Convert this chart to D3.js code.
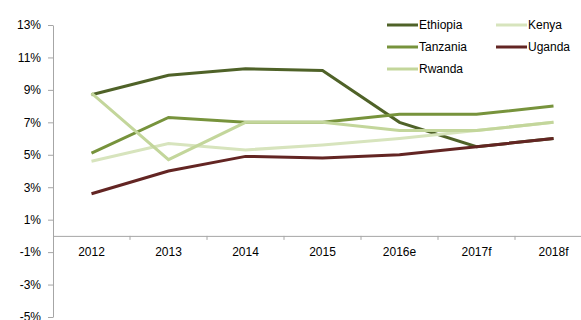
<!DOCTYPE html>
<html>
<head>
<meta charset="utf-8">
<script src="https://cdn.jsdelivr.net/npm/d3@7"></script>
<style>
  body { margin: 0; background: #fff; }
  text { font-family: "Liberation Sans", Arial, sans-serif; }
</style>
</head>
<body>
<script>
// data (growth, %)
const years = ['2012', '2013', '2014', '2015', '2016e', '2017f', '2018f'];
const ethiopia = [8.7, 9.9, 10.3, 10.2, 7.0, 5.5, 6.0];
const kenya = [4.6, 5.7, 5.3, 5.6, 6.0, 6.5, 7.0];
const tanzania = [5.1, 7.3, 7.0, 7.0, 7.5, 7.5, 8.0];
const uganda = [2.6, 4.0, 4.9, 4.8, 5.0, 5.5, 6.0];
const rwanda = [8.8, 4.7, 7.0, 7.0, 6.5, 6.5, 7.0];
const yTicks = [13, 11, 9, 7, 5, 3, 1, -1, -3, -5];

const series = [
  {name: 'Ethiopia', values: ethiopia, color: '#4f6228'},
  {name: 'Kenya', values: kenya, color: '#d7e4bd'},
  {name: 'Tanzania', values: tanzania, color: '#77933c'},
  {name: 'Uganda', values: uganda, color: '#632523'},
  {name: 'Rwanda', values: rwanda, color: '#c3d69b'}
];

const margin = {top: 25, left: 53};
const width = 539;   // plot runs a little past the window edge
const height = 292;

const svg = d3.select('body').append('svg')
  .attr('width', 581)
  .attr('height', 320);

const g = svg.append('g')
  .attr('transform', `translate(${margin.left},${margin.top})`);

const x = d3.scaleBand().domain(years).range([0, width]);
const y = d3.scaleLinear().domain([-5, 13]).range([height, 0]);

// y axis
const yAxis = g.append('g')
  .call(d3.axisLeft(y).tickValues(yTicks).tickFormat(d => d + '%').tickSize(5).tickSizeOuter(0));
yAxis.select('.domain').attr('stroke', '#a6a6a6');
yAxis.selectAll('.tick line').attr('stroke', '#a6a6a6');
yAxis.selectAll('.tick text')
  .attr('x', -12)
  .attr('fill', '#000')
  .style('font-size', '12px');

// x axis at zero
const xAxis = g.append('g')
  .attr('transform', `translate(0,${y(0)})`)
  .call(d3.axisBottom(x).tickSize(0).tickSizeOuter(0));
xAxis.select('.domain').attr('stroke', '#a6a6a6');
xAxis.selectAll('.tick text')
  .attr('y', 12)
  .attr('fill', '#000')
  .style('font-size', '12px');
// tick marks between categories
xAxis.selectAll('.sep')
  .data(years.slice(1))
  .join('line')
  .attr('class', 'sep')
  .attr('x1', d => x(d)).attr('x2', d => x(d))
  .attr('y1', 0).attr('y2', 4)
  .attr('stroke', '#a6a6a6');

const line = d3.line()
  .x((d, i) => x(years[i]) + x.bandwidth() / 2)
  .y(d => y(d));

g.selectAll('.series')
  .data(series)
  .join('path')
  .attr('class', 'series')
  .attr('d', d => line(d.values))
  .attr('fill', 'none')
  .attr('stroke', d => d.color)
  .attr('stroke-width', 3);

// legend
const legendItems = [
  {s: series[0], col: 0, row: 0},
  {s: series[1], col: 1, row: 0},
  {s: series[2], col: 0, row: 1},
  {s: series[3], col: 1, row: 1},
  {s: series[4], col: 0, row: 2}
];
const legend = svg.append('g').attr('transform', 'translate(387,25)');
const item = legend.selectAll('g')
  .data(legendItems)
  .join('g')
  .attr('transform', d => `translate(${d.col * 109},${d.row * 22})`);
item.append('line')
  .attr('x1', 0).attr('x2', 31)
  .attr('stroke', d => d.s.color)
  .attr('stroke-width', 3);
item.append('text')
  .attr('x', 32)
  .attr('dy', '0.35em')
  .style('font-size', '12px')
  .text(d => d.s.name);
</script>
</body>
</html>
